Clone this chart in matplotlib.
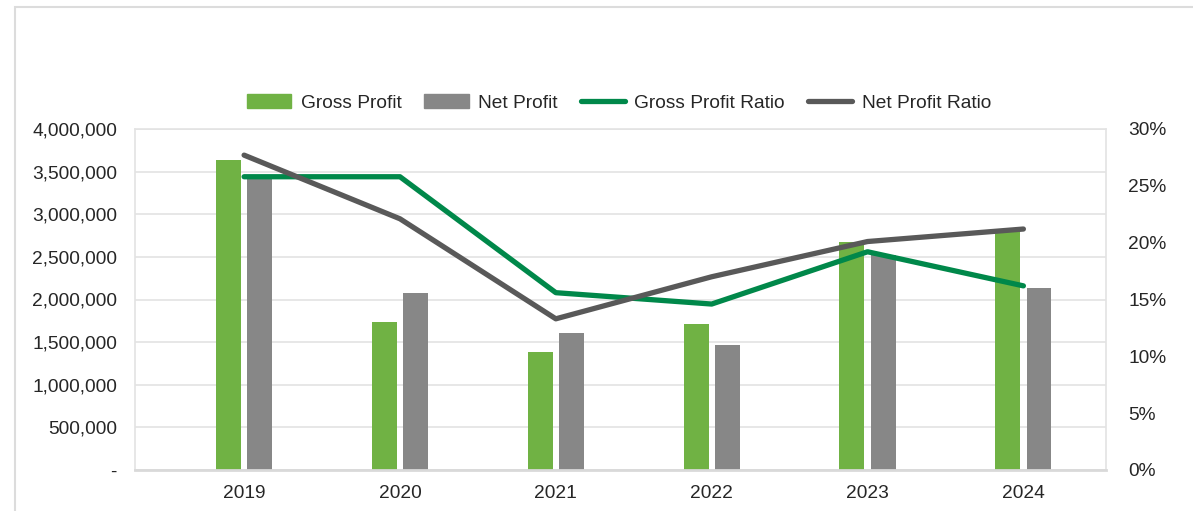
import matplotlib.pyplot as plt
from matplotlib.patches import Rectangle
from matplotlib.lines import Line2D
from matplotlib.patches import Patch
from matplotlib.ticker import FuncFormatter, MultipleLocator
import numpy as np

years = ['2019', '2020', '2021', '2022', '2023', '2024']
gross_profit = [3632000, 1738000, 1385000, 1714000, 2671000, 2830000]
net_profit = [3408000, 2079000, 1608000, 1467000, 2520000, 2134000]
gross_ratio = [0.258, 0.258, 0.156, 0.146, 0.192, 0.162]
net_ratio = [0.277, 0.221, 0.133, 0.170, 0.201, 0.212]

GREEN_BAR = '#70B244'
GRAY_BAR = '#878787'
GREEN_LINE = '#00884A'
GRAY_LINE = '#595959'
GRID = '#E3E3E3'
TXT = '#262626'
FS = 13.8

plt.rcParams['font.family'] = ['Liberation Sans', 'DejaVu Sans']
plt.rcParams['font.size'] = FS

fig = plt.figure(figsize=(11.93, 5.11), dpi=100)
# outer chart border (only top and left edges are visible in the crop)
fig.patches.append(Rectangle((15 / 1193, -0.2), 1.2, 1.2 - 7 / 511,
                             transform=fig.transFigure, fill=False,
                             edgecolor='#DCDCDC', lw=1.5))

ax = fig.add_axes([135 / 1193, 1 - 470 / 511, (1106 - 135) / 1193, (470 - 129) / 511])
x = np.arange(len(years))
w = 0.16
ax.bar(x - 0.1, gross_profit, width=w, color=GREEN_BAR, zorder=2)
ax.bar(x + 0.1, net_profit, width=w, color=GRAY_BAR, zorder=2)
ax.set_ylim(0, 4000000)
ax.set_xlim(-0.70, 5.53)
ax.yaxis.set_major_locator(MultipleLocator(500000))
ax.yaxis.set_major_formatter(FuncFormatter(lambda v, p: '-' if v == 0 else f'{v:,.0f}'))
ax.set_xticks(x)
ax.set_xticklabels(years)
ax.grid(axis='y', color=GRID, lw=1.2, zorder=0)
ax.tick_params(length=0, colors=TXT, labelsize=FS)
ax.tick_params(axis='y', pad=13)
ax.tick_params(axis='x', pad=11)
for s in ['left', 'right', 'top']:
    ax.spines[s].set_color(GRID)
    ax.spines[s].set_linewidth(1.2)
ax.spines['bottom'].set_color('#D9D9D9')
ax.spines['bottom'].set_linewidth(2)

ax2 = ax.twinx()
ax2.plot(x, gross_ratio, color=GREEN_LINE, lw=3.8, solid_capstyle='round',
         solid_joinstyle='round', zorder=3)
ax2.plot(x, net_ratio, color=GRAY_LINE, lw=3.8, solid_capstyle='round',
         solid_joinstyle='round', zorder=3)
ax2.set_ylim(0, 0.30)
ax2.yaxis.set_major_locator(MultipleLocator(0.05))
ax2.yaxis.set_major_formatter(FuncFormatter(lambda v, p: f'{v:.0%}'))
ax2.tick_params(length=0, colors=TXT, labelsize=FS, pad=16)
for s in ax2.spines.values():
    s.set_visible(False)

handles = [
    Patch(color=GREEN_BAR, label='Gross Profit'),
    Patch(color=GRAY_BAR, label='Net Profit'),
    Line2D([], [], color=GREEN_LINE, lw=3.8, solid_capstyle='round', label='Gross Profit Ratio'),
    Line2D([], [], color=GRAY_LINE, lw=3.8, solid_capstyle='round', label='Net Profit Ratio'),
]
leg = fig.legend(handles=handles, loc='center', bbox_to_anchor=(619 / 1193, 1 - 103 / 511),
                 ncol=4, frameon=False, fontsize=FS, handlelength=2.3, handleheight=0.7,
                 handletextpad=0.5, columnspacing=1.2)
for t in leg.get_texts():
    t.set_color(TXT)

fig.savefig('out.png', dpi=100, facecolor='white')
